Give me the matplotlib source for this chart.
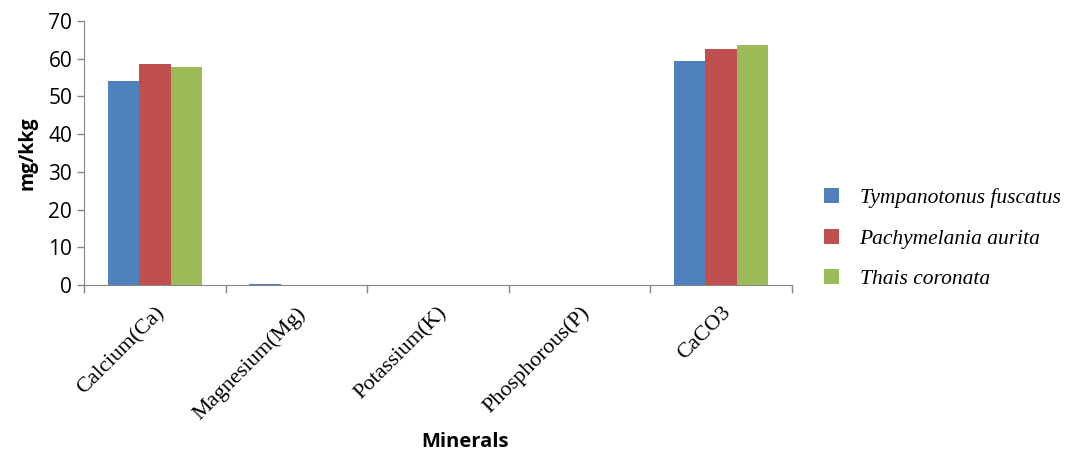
import numpy as np
import matplotlib.pyplot as plt
from matplotlib.patches import Patch

# mineral content per species (mg/kkg)
minerals = ['Calcium(Ca)', 'Magnesium(Mg)', 'Potassium(K)', 'Phosphorous(P)', 'CaCO3']
species = ['Tympanotonus fuscatus', 'Pachymelania aurita', 'Thais coronata']
tympanotonus = [54.1, 0.3, 0.05, 0.05, 59.5]
pachymelania = [58.7, 0.1, 0.05, 0.05, 62.5]
thais = [57.8, 0.1, 0.05, 0.05, 63.7]
colors = ['#4F81BD', '#C0504D', '#9BBB59']

fig = plt.figure(figsize=(10.7, 4.54), dpi=100)
ax = fig.add_axes([0.0785, 0.372, 0.6615, 0.582])

x = np.arange(len(minerals))
w = 2 / 9
for i, vals in enumerate([tympanotonus, pachymelania, thais]):
    ax.bar(x + (i - 1) * w, vals, width=w, color=colors[i], label=species[i])

ax.set_xlim(-0.5, len(minerals) - 0.5)
ax.set_ylim(0, 70)
ax.set_yticks(range(0, 71, 10))

# category boundary ticks, labels at the centres
ax.set_xticks(np.arange(-0.5, len(minerals), 1.0), minor=True)
ax.set_xticks(x)
ax.set_xticklabels(minerals, rotation=45, ha='right', rotation_mode='anchor',
                   family='Liberation Serif', fontsize=16)
ax.tick_params(axis='x', which='major', length=0, pad=13)
ax.tick_params(axis='x', which='minor', length=6, color='#868686', width=1)
ax.tick_params(axis='y', length=5, color='#868686', width=1, labelsize=15)
for lbl in ax.get_yticklabels():
    lbl.set_family('Open Sans')

for s in ['top', 'right']:
    ax.spines[s].set_visible(False)
for s in ['left', 'bottom']:
    ax.spines[s].set_color('#868686')

ax.set_ylabel('mg/kkg', family='Open Sans', fontweight='bold', fontsize=14, labelpad=8)
fig.text(0.435, 0.015, 'Minerals', family='Open Sans', fontweight='bold', fontsize=14.5, ha='center')

handles = [Patch(facecolor=c) for c in colors]
fig.legend(handles, species, loc='center left', bbox_to_anchor=(0.752, 0.474),
           frameon=False, handlelength=0.7, handleheight=0.7, handletextpad=0.95,
           labelspacing=0.95, prop={'family': 'Liberation Serif', 'style': 'italic', 'size': 15.5})

fig.savefig('out.png', dpi=100)
